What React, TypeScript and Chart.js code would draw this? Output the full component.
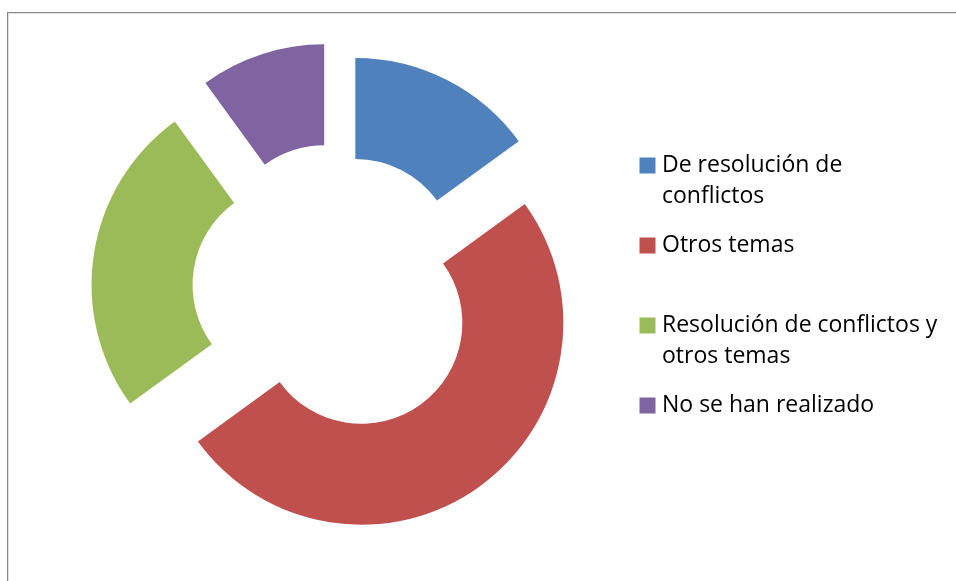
import React, { useEffect, useRef } from "react";
import { Chart, registerables } from "chart.js";

Chart.register(...registerables);

// ---- data ----
const CATEGORIES: string[][] = [
  ["De resolución de", "conflictos"],
  ["Otros temas"],
  ["Resolución de conflictos y", "otros temas"],
  ["No se han realizado"],
];
const VALUES: number[] = [15, 50, 25, 10];

// ---- styles ----
const COLORS = ["#4F81BD", "#C0504D", "#9BBB59", "#8064A2"];
const EXPLODE_PX = [36, 38, 46, 48];
const FONT_FAMILY = "'Open Sans', Lato, 'Liberation Sans', sans-serif";
const FONT_SIZE = 23;
const LEGEND_PAD = 18;
const BOX_W = 6;
const CANVAS_W = 956;
const CANVAS_H = 581;
const LEGEND_LEFT = 626.5;
const CENTER_X = 339;

const explodePlugin = {
  id: "explodeArcs",
  beforeDatasetDraw(chart: any, args: any) {
    const ctx = chart.ctx;
    args.meta.data.forEach((arc: any, i: number) => {
      const { startAngle, endAngle } = arc.getProps(["startAngle", "endAngle"], true);
      const mid = (startAngle + endAngle) / 2;
      const d = EXPLODE_PX[i] || 0;
      ctx.save();
      ctx.translate(Math.cos(mid) * d, Math.sin(mid) * d);
      arc.draw(ctx, chart.chartArea);
      ctx.restore();
    });
    return false;
  },
};

export default function App() {
  const canvasRef = useRef<HTMLCanvasElement | null>(null);

  useEffect(() => {
    if (!canvasRef.current) return;
    const baseGen = (Chart as any).overrides.doughnut.plugins.legend.labels.generateLabels;

    // measure the longest legend line to size the legend box
    const mctx = document.createElement("canvas").getContext("2d")!;
    mctx.font = `${FONT_SIZE}px ${FONT_FAMILY}`;
    let textW = 0;
    CATEGORIES.forEach((lines) => {
      const longest = lines.reduce((a, b) => (a.length > b.length ? a : b));
      textW = Math.max(textW, mctx.measureText(longest).width);
    });
    const legendW = Math.ceil(LEGEND_PAD + BOX_W + FONT_SIZE / 2 + textW + 4);
    const padRight = Math.max(0, CANVAS_W - LEGEND_LEFT - legendW);
    const padLeft = 2 * CENTER_X - (CANVAS_W - padRight - legendW);

    const chart = new Chart(canvasRef.current, {
      type: "doughnut",
      data: {
        labels: CATEGORIES as any,
        datasets: [
          {
            data: VALUES,
            backgroundColor: COLORS,
            borderWidth: 0,
            radius: 202,
            cutout: "50%",
          } as any,
        ],
      },
      options: {
        responsive: false,
        animation: false,
        devicePixelRatio: 1,
        events: [],
        layout: { padding: { left: padLeft, right: padRight, top: 10, bottom: 7 } },
        plugins: {
          tooltip: { enabled: false },
          legend: {
            position: "right",
            align: "start",
            maxWidth: legendW,
            title: {
              display: true,
              text: "",
              font: { size: 10, lineHeight: 1 },
              padding: { top: 116, bottom: 0 },
            },
            labels: {
              usePointStyle: true,
              pointStyle: "rect",
              boxWidth: BOX_W,
              boxHeight: 16,
              padding: LEGEND_PAD,
              color: "#000000",
              font: { family: FONT_FAMILY, size: FONT_SIZE, lineHeight: "31px" },
              generateLabels: (c: any) =>
                baseGen(c).map((item: any) => {
                  const lines = Array.isArray(item.text) ? [...item.text] : [item.text];
                  while (lines.length < 2) lines.push("");
                  return { ...item, text: lines };
                }),
            },
          } as any,
        },
      },
      plugins: [explodePlugin],
    });
    return () => chart.destroy();
  }, []);

  return (
    <div
      style={{
        position: "absolute",
        left: 0,
        top: 0,
        width: CANVAS_W,
        height: CANVAS_H,
        overflow: "hidden",
        background: "#ffffff",
      }}
    >
      <canvas ref={canvasRef} width={CANVAS_W} height={CANVAS_H} style={{ display: "block" }} />
      <div
        style={{
          position: "absolute",
          left: 8,
          top: 13,
          right: 0,
          bottom: 0,
          borderLeft: "1px solid #e2e2e2",
          borderTop: "1px solid #e2e2e2",
          pointerEvents: "none",
        }}
      />
      <div
        style={{
          position: "absolute",
          left: 7,
          top: 12,
          right: 0,
          bottom: 0,
          borderLeft: "1px solid #878787",
          borderTop: "1px solid #878787",
          pointerEvents: "none",
        }}
      />
    </div>
  );
}
